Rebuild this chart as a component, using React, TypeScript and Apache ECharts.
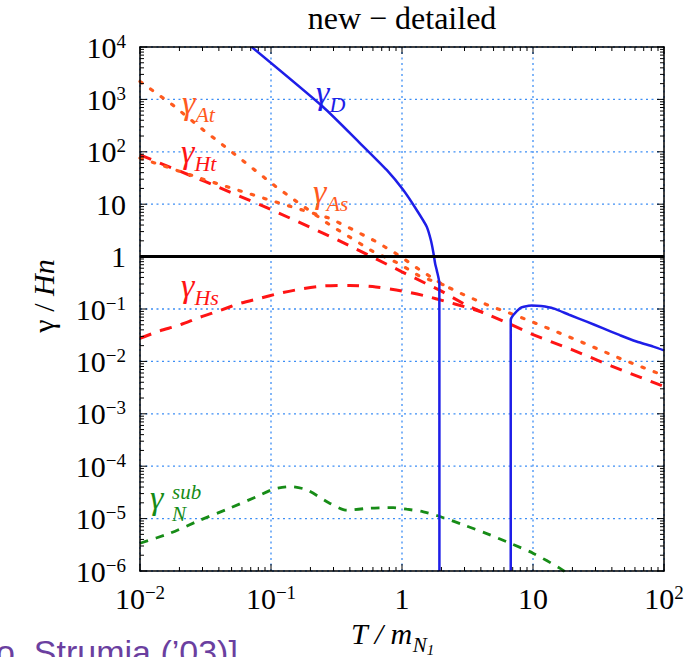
import React, { useEffect, useRef } from 'react';
import * as echarts from 'echarts';

const SERIF = 'Liberation Serif';
const X_MIN = 0.01;
const X_MAX = 100;
const Y_MIN = 1e-6;
const Y_MAX = 1e4;

// axis decades and tick labels
const xDecades = [0.01, 0.1, 1, 10, 100];
const xTickLabels = ['{b|10}{s|−2}', '{b|10}{s|−1}', '{b|1}', '{b|10}', '{b|10}{s|2}'];
const yDecades = [1e-6, 1e-5, 1e-4, 1e-3, 1e-2, 1e-1, 1, 10, 100, 1000, 10000];
const yTickLabels = [
  '{b|10}{s|−6}', '{b|10}{s|−5}', '{b|10}{s|−4}', '{b|10}{s|−3}', '{b|10}{s|−2}',
  '{b|10}{s|−1}', '{b|1}', '{b|10}', '{b|10}{s|2}', '{b|10}{s|3}', '{b|10}{s|4}',
];
const minorSteps = [2, 3, 4, 5, 6, 7, 8, 9];

// series values: [T/m, gamma/Hn]
const gammaD1: number[][] = [
  [0.0713, 10000], [0.249, 724], [0.477, 147], [0.764, 45], [1.023, 18.6], [1.294, 7.76],
  [1.545, 3.72], [1.66, 2.07], [1.735, 1.2], [1.79, 0.74], [1.845, 0.54], [1.928, 0.309], [1.93, 1e-6],
];
const gammaD2: number[][] = [
  [6.76, 1e-6], [6.76, 0.0617], [7.08, 0.0767], [7.96, 0.103], [8.5, 0.11], [9.8, 0.117],
  [11.5, 0.114], [14.3, 0.103], [19.1, 0.0767], [25.7, 0.0575], [34.4, 0.0427], [46.1, 0.0316],
  [61.7, 0.024], [82.8, 0.0191], [100, 0.0162],
];
const gammaAt: number[][] = [
  [0.01, 2200], [0.01455, 1122], [0.01786, 776], [0.0303, 263], [0.04436, 126], [0.0752, 44.7],
  [0.1096, 21.4], [0.157, 11.2], [0.282, 4.01], [0.413, 2.23], [0.604, 1.24], [0.938, 0.745],
  [1.371, 0.42], [2.065, 0.29],
];
const gammaAs: number[][] = [
  [0.01, 76], [0.0316, 29], [0.1172, 10.4], [0.282, 5.37], [0.425, 3.24], [0.641, 1.905],
  [0.938, 1.07], [1.371, 0.555], [2.065, 0.288], [3.119, 0.176], [4.842, 0.1105], [7.295, 0.0766],
  [11.3, 0.0495], [21.5, 0.0257], [48.9, 0.0107], [100, 0.00537],
];
const gammaHt: number[][] = [
  [0.01, 87.1], [0.0316, 26.9], [0.1, 7.94], [0.316, 2.14], [1, 0.513], [2.0, 0.219],
  [3.16, 0.115], [6.31, 0.055], [10, 0.0324], [20, 0.0166], [39.8, 0.00813], [100, 0.00331],
];
const gammaHs: number[][] = [
  [0.01, 0.0275], [0.0137, 0.0372], [0.0201, 0.0495], [0.0285, 0.0692], [0.0406, 0.0933],
  [0.056, 0.1245], [0.082, 0.16], [0.1164, 0.1995], [0.17, 0.241], [0.249, 0.275], [0.398, 0.282],
  [0.631, 0.263], [1.0, 0.221], [1.5, 0.178], [2.19, 0.138], [3.02, 0.11], [4.17, 0.0855],
];
const gammaNsub: number[][] = [
  [0.01, 3.39e-6], [0.01694, 5.25e-6], [0.0287, 9.33e-6], [0.0486, 1.585e-5], [0.0778, 2.63e-5],
  [0.1042, 3.63e-5], [0.1396, 4.07e-5], [0.187, 3.55e-5], [0.282, 1.95e-5], [0.378, 1.445e-5],
  [0.57, 1.585e-5], [0.859, 1.62e-5], [1.086, 1.51e-5], [1.455, 1.35e-5], [1.95, 1.096e-5],
  [2.94, 7.59e-6], [4.7, 4.9e-6], [6.67, 3.39e-6], [10, 2.19e-6], [16.1, 1.12e-6], [20, 7.6e-7],
];
const unity: number[][] = [[0.01, 1], [100, 1]];

const BLUE = '#1e1ee8';
const RED = '#ff1414';
const ORANGE = '#ff5a1e';
const GREEN = '#178c17';
const GRID = '#3d8ef5';

const axisRich = {
  b: { fontSize: 30, fontFamily: SERIF, height: 34, lineHeight: 34, verticalAlign: 'top', fill: '#000' },
  s: { fontSize: 19, fontFamily: SERIF, height: 22, lineHeight: 22, verticalAlign: 'top', fill: '#000' },
};

const labRich = (color: string) => ({
  g: { fontSize: 34, fontFamily: SERIF, fontStyle: 'italic', height: 20, lineHeight: 20, verticalAlign: 'top', fill: color },
  s: { fontSize: 22, fontFamily: SERIF, fontStyle: 'italic', height: 45, lineHeight: 45, verticalAlign: 'top', fill: color },
});

function curveLabel(text: string, x: number, y: number, color: string) {
  return {
    type: 'text', x, y, z: 10,
    style: { text, rich: labRich(color), align: 'left', verticalAlign: 'top', fill: color },
  };
}

export default function App() {
  const ref = useRef<HTMLDivElement>(null);
  useEffect(() => {
    const chart = echarts.init(ref.current!, null, { renderer: 'svg' });

    const tickData: number[][] = [];
    xDecades.forEach((v) => { tickData.push([v, Y_MIN, 2, 7], [v, Y_MAX, 3, 7]); });
    xDecades.slice(0, -1).forEach((d) => minorSteps.forEach((m) => {
      tickData.push([d * m, Y_MIN, 2, 4], [d * m, Y_MAX, 3, 4]);
    }));
    yDecades.forEach((v) => { tickData.push([X_MIN, v, 0, 7], [X_MAX, v, 1, 7]); });
    yDecades.slice(0, -1).forEach((d) => minorSteps.forEach((m) => {
      tickData.push([X_MIN, d * m, 0, 4], [X_MAX, d * m, 1, 4]);
    }));

    const baseAxis = {
      type: 'log', logBase: 10, z: 5,
      axisLine: { show: true, onZero: false, lineStyle: { color: '#000', width: 1.5 } },
      axisTick: { show: false }, axisLabel: { show: false }, splitLine: { show: false },
    };

    const lineSeries = (data: number[][], color: string, width: number, type: any, smooth: any, extra: any = {}) => ({
      type: 'line', data, showSymbol: false, symbol: 'none', silent: true, clip: true,
      smooth, z: 3,
      lineStyle: { color, width, type, ...extra },
    });

    const option: any = {
      animation: false,
      backgroundColor: '#fff',
      grid: { left: 140, top: 47, width: 524, height: 524, containLabel: false },
      xAxis: [
        { ...baseAxis, min: X_MIN, max: X_MAX, position: 'bottom' },
        { ...baseAxis, min: X_MIN, max: X_MAX, position: 'top' },
      ],
      yAxis: [
        { ...baseAxis, min: Y_MIN, max: Y_MAX, position: 'left' },
        { ...baseAxis, min: Y_MIN, max: Y_MAX, position: 'right' },
      ],
      series: [
        {
          type: 'custom', silent: true, z: 1,
          data: xDecades.map((v) => [v, 1]),
          renderItem: (_p: any, api: any) => {
            const a = api.coord([api.value(0), Y_MIN]);
            const b = api.coord([api.value(0), Y_MAX]);
            return { type: 'line', shape: { x1: a[0], y1: a[1], x2: b[0], y2: b[1] }, style: { stroke: GRID, lineWidth: 1.3, lineDash: [2, 3.5] } };
          },
        },
        {
          type: 'custom', silent: true, z: 1,
          data: yDecades.map((v) => [1, v]),
          renderItem: (_p: any, api: any) => {
            const a = api.coord([X_MIN, api.value(1)]);
            const b = api.coord([X_MAX, api.value(1)]);
            return { type: 'line', shape: { x1: a[0], y1: a[1], x2: b[0], y2: b[1] }, style: { stroke: GRID, lineWidth: 1.3, lineDash: [2, 3.5] } };
          },
        },
        lineSeries(gammaHt, RED, 3, [12, 9.5], false),
        lineSeries(gammaHs, RED, 3, [12, 9.5], 0.25),
        lineSeries(gammaAt, ORANGE, 3.2, [2.5, 10.5], false, { cap: 'round' }),
        lineSeries(gammaAs, ORANGE, 3.2, [2.5, 10.5], false, { cap: 'round' }),
        lineSeries(gammaNsub, GREEN, 2.8, [8.5, 8], 0.25),
        lineSeries(gammaD1, BLUE, 2.5, 'solid', 0.2),
        lineSeries(gammaD2, BLUE, 2.5, 'solid', 0.2),
        { ...lineSeries(unity, '#000', 3, 'solid', false), z: 4 },
        {
          type: 'custom', silent: true, z: 6,
          data: tickData,
          renderItem: (_p: any, api: any) => {
            const p = api.coord([api.value(0), api.value(1)]);
            const dir = api.value(2);
            const len = api.value(3);
            let x2 = p[0];
            let y2 = p[1];
            if (dir === 0) x2 += len; else if (dir === 1) x2 -= len; else if (dir === 2) y2 -= len; else y2 += len;
            return { type: 'line', shape: { x1: p[0], y1: p[1], x2, y2 }, style: { stroke: '#000', lineWidth: 1 } };
          },
        },
        {
          type: 'custom', silent: true, z: 6,
          data: xDecades.map((v, i) => [v, Y_MIN, i]),
          renderItem: (_p: any, api: any) => {
            const p = api.coord([api.value(0), Y_MIN]);
            return {
              type: 'text', x: p[0], y: p[1] + 10,
              style: { text: xTickLabels[api.value(2)], rich: axisRich, align: 'center', verticalAlign: 'top', fill: '#000' },
            };
          },
        },
        {
          type: 'custom', silent: true, z: 6,
          data: yDecades.map((v, i) => [X_MIN, v, i]),
          renderItem: (_p: any, api: any) => {
            const p = api.coord([X_MIN, api.value(1)]);
            return {
              type: 'text', x: p[0] - 14, y: p[1],
              style: { text: yTickLabels[api.value(2)], rich: axisRich, align: 'right', verticalAlign: 'middle', fill: '#000' },
            };
          },
        },
      ],
      graphic: [
        {
          type: 'text', x: 402, y: 18,
          style: { text: 'new − detailed', fontSize: 32, fontFamily: SERIF, fill: '#000', align: 'center', verticalAlign: 'middle' },
        },
        {
          type: 'text', x: 43, y: 296, rotation: Math.PI / 2,
          style: {
            text: '{g|γ / }{i|Hn}', align: 'center', verticalAlign: 'middle', fill: '#000',
            rich: {
              g: { fontSize: 30, fontFamily: SERIF, fill: '#000' },
              i: { fontSize: 30, fontFamily: SERIF, fontStyle: 'italic', fill: '#000' },
            },
          },
        },
        {
          type: 'text', x: 351, y: 623,
          style: {
            text: '{t|T / m}{n|N}{o|1}', align: 'left', verticalAlign: 'top', fill: '#000',
            rich: {
              t: { fontSize: 30, fontFamily: SERIF, fontStyle: 'italic', height: 20, lineHeight: 20, verticalAlign: 'top', fill: '#000' },
              n: { fontSize: 21, fontFamily: SERIF, fontStyle: 'italic', height: 44, lineHeight: 44, verticalAlign: 'top', fill: '#000' },
              o: { fontSize: 15, fontFamily: SERIF, fontStyle: 'italic', height: 54, lineHeight: 54, verticalAlign: 'top', fill: '#000' },
            },
          },
        },
        curveLabel('{g|γ}{s|D}', 316, 82, BLUE),
        curveLabel('{g|γ}{s|At}', 182, 92, ORANGE),
        curveLabel('{g|γ}{s|Ht}', 181, 141, RED),
        curveLabel('{g|γ}{s|As}', 313, 181, ORANGE),
        curveLabel('{g|γ}{s|Hs}', 181, 275, RED),
        {
          type: 'text', x: 150, y: 487, z: 10,
          style: { text: '{g|γ}', rich: labRich(GREEN), align: 'left', verticalAlign: 'top', fill: GREEN },
        },
        {
          type: 'text', x: 172, y: 481, z: 10,
          style: { text: 'sub\nN', fontSize: 21, lineHeight: 22, fontFamily: SERIF, fontStyle: 'italic', fill: GREEN, align: 'left', verticalAlign: 'top' },
        },
        {
          type: 'text', x: -4, y: 635, z: 10,
          style: { text: 'o, Strumia (’03)]', fontSize: 34, fontFamily: 'Liberation Sans', fill: '#6b3fa0', align: 'left', verticalAlign: 'top' },
        },
      ],
    };

    chart.setOption(option);
    return () => chart.dispose();
  }, []);

  return (
    <div
      ref={ref}
      style={{ position: 'fixed', left: 0, top: 0, width: 686, height: 657, background: '#fff' }}
    />
  );
}
